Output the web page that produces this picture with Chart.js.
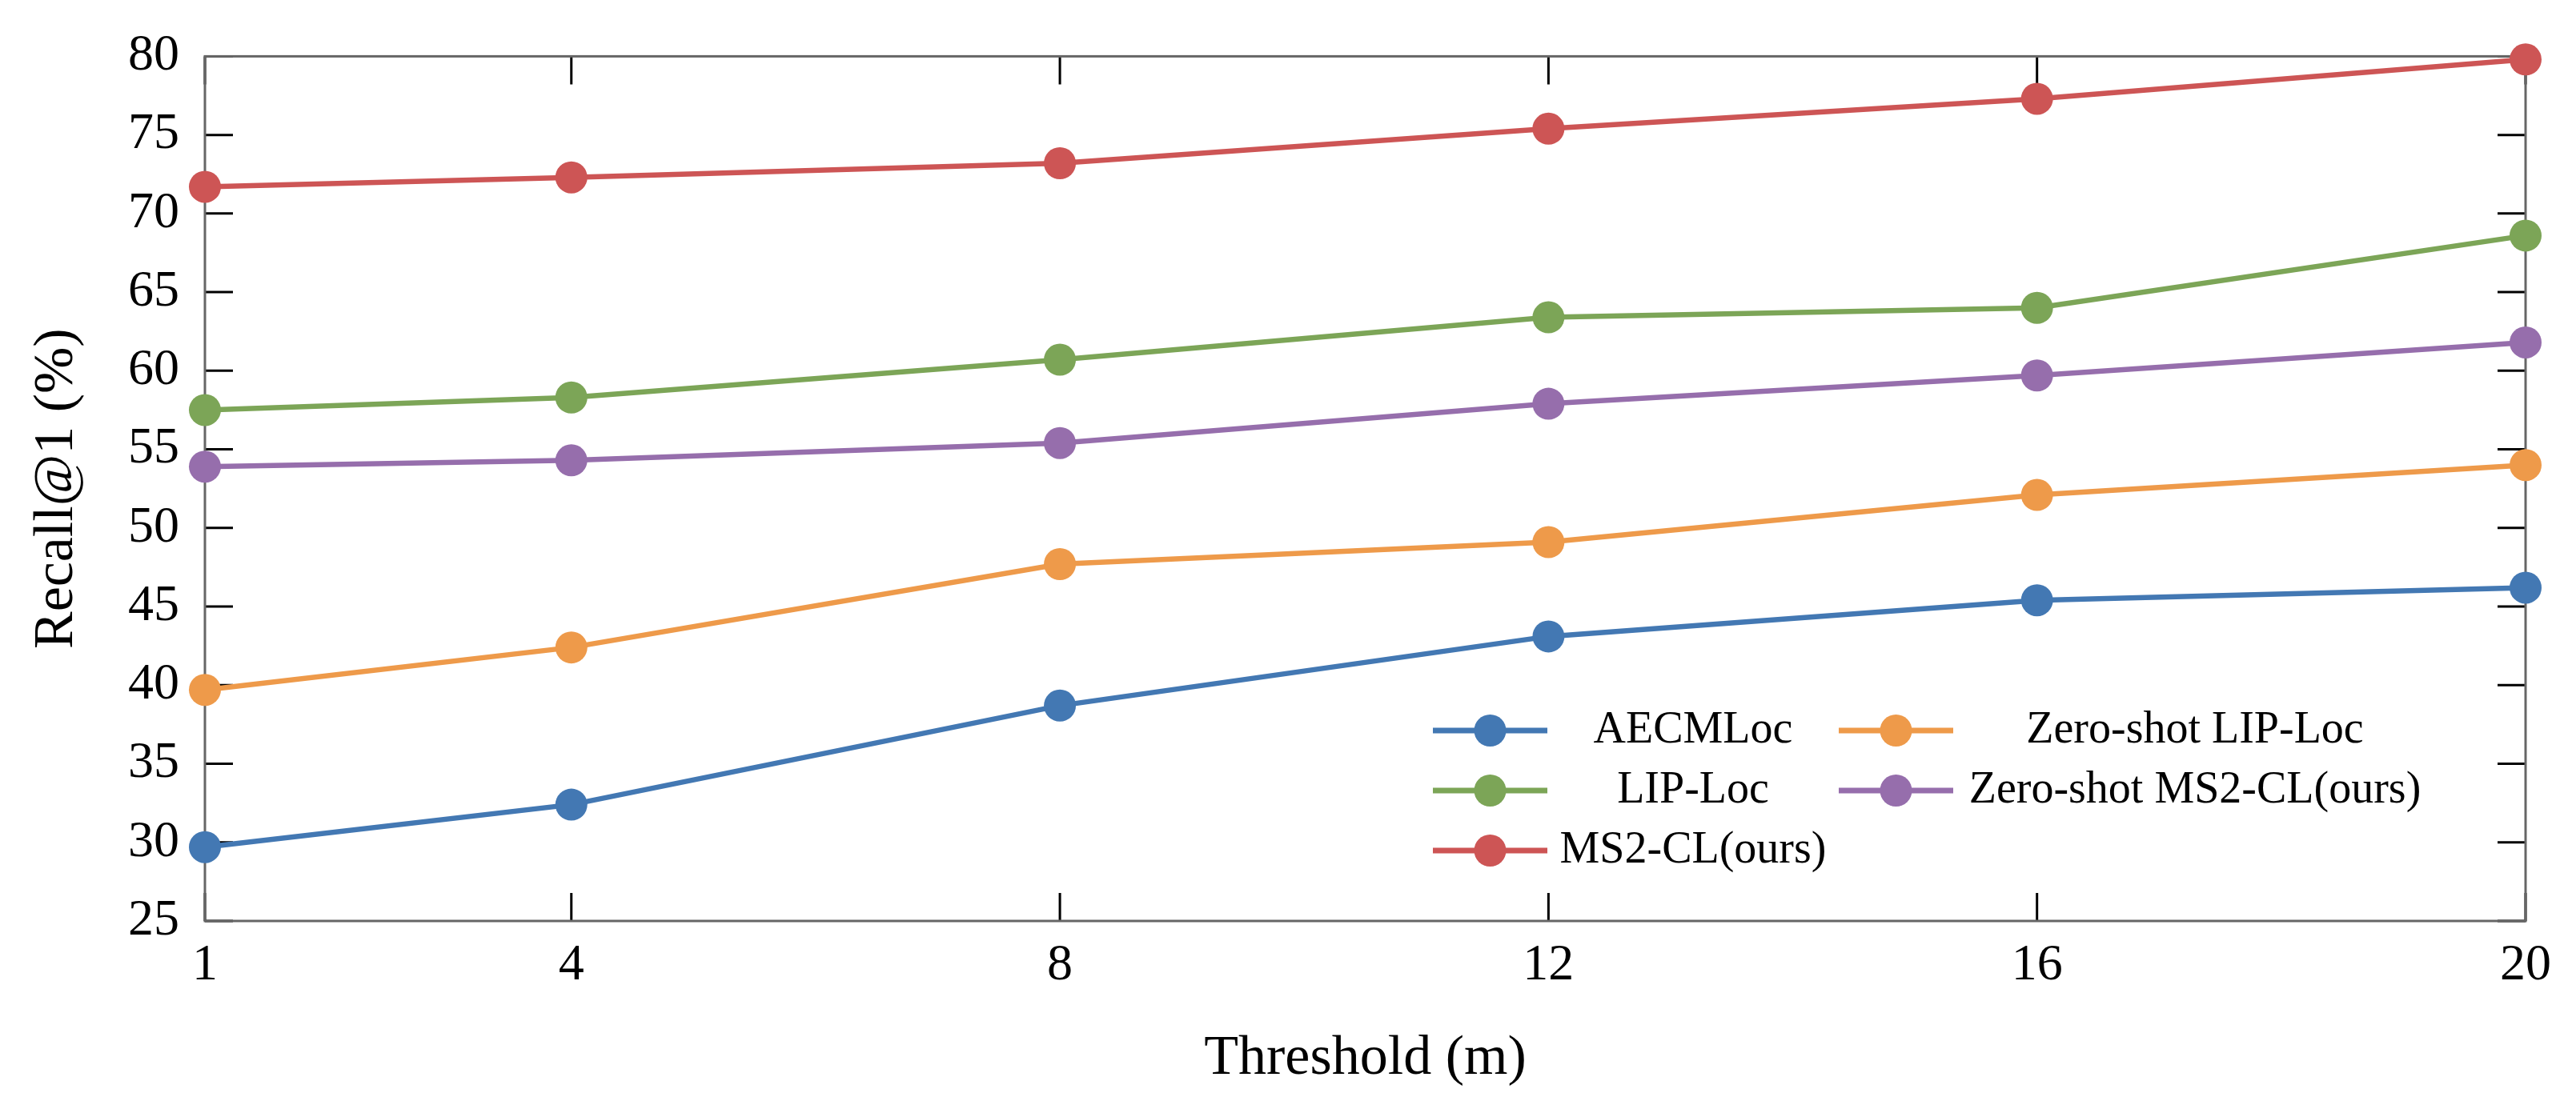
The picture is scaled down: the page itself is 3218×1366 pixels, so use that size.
<!DOCTYPE html>
<html lang="en">
<head>
<meta charset="UTF-8">
<title>Recall@1 vs Threshold</title>
<script src="https://cdn.jsdelivr.net/npm/chart.js"></script>
<style>
  body { margin: 0; background: #fff; }
  #wrap { width: 3218px; height: 1366px; }
</style>
</head>
<body>
<div id="wrap"><canvas id="recallChart" width="3218" height="1366"></canvas></div>
<script>
// data
const thresholds = [1, 4, 8, 12, 16, 20];
const aecmloc  = [29.7, 32.4, 38.7, 43.1, 45.4, 46.2];
const lipLoc   = [57.5, 58.3, 60.7, 63.4, 64.0, 68.6];
const ms2cl    = [71.7, 72.3, 73.2, 75.4, 77.3, 79.8];
const zsLipLoc = [39.7, 42.4, 47.7, 49.1, 52.1, 54.0];
const zsMs2cl  = [53.9, 54.3, 55.4, 57.9, 59.7, 61.8];
const yTicks = [25, 30, 35, 40, 45, 50, 55, 60, 65, 70, 75, 80];

const seriesNames = ["AECMLoc", "LIP-Loc", "MS2-CL(ours)", "Zero-shot LIP-Loc", "Zero-shot MS2-CL(ours)"];
const seriesVals = [aecmloc, lipLoc, ms2cl, zsLipLoc, zsMs2cl];
const colors = ["#4378b3", "#7ca557", "#cd5555", "#ee9a4a", "#966eac"];

const FONT = "'Liberation Serif', 'Times New Roman', serif";

// box around the plot + inward ticks on all four sides
const frameTicks = {
    id: "frameTicks",
    beforeDatasetsDraw(chart) {
        const { ctx, chartArea: a, scales } = chart;
        ctx.save();
        ctx.strokeStyle = "#000";
        ctx.lineWidth = 3;
        const len = 35;
        scales.x.ticks.forEach(t => {
            const px = scales.x.getPixelForValue(t.value);
            ctx.beginPath();
            ctx.moveTo(px, a.bottom); ctx.lineTo(px, a.bottom - len);
            ctx.moveTo(px, a.top); ctx.lineTo(px, a.top + len);
            ctx.stroke();
        });
        scales.y.ticks.forEach(t => {
            const py = scales.y.getPixelForValue(t.value);
            ctx.beginPath();
            ctx.moveTo(a.left, py); ctx.lineTo(a.left + len, py);
            ctx.moveTo(a.right, py); ctx.lineTo(a.right - len, py);
            ctx.stroke();
        });
        ctx.strokeStyle = "#666";
        ctx.lineWidth = 3;
        ctx.strokeRect(a.left, a.top, a.right - a.left, a.bottom - a.top);
        ctx.restore();
    }
};

// two-column legend in the lower right, text centred like matplotlib
const legendBox = {
    id: "legendBox",
    afterDraw(chart) {
        const { ctx, chartArea: a } = chart;
        const cols = [
            { x0: a.right - 1365, x1: a.right - 1222, tx: a.right - 1040 },
            { x0: a.right - 858, x1: a.right - 715, tx: a.right - 413 }
        ];
        const rows = [a.bottom - 238, a.bottom - 163, a.bottom - 88];
        ctx.save();
        ctx.font = "56px " + FONT;
        ctx.textAlign = "center";
        ctx.textBaseline = "middle";
        chart.data.datasets.forEach((ds, i) => {
            const c = cols[Math.floor(i / 3)];
            const y = rows[i % 3];
            ctx.strokeStyle = ds.borderColor;
            ctx.lineWidth = 7;
            ctx.beginPath();
            ctx.moveTo(c.x0, y); ctx.lineTo(c.x1, y);
            ctx.stroke();
            ctx.fillStyle = ds.backgroundColor;
            ctx.beginPath();
            ctx.arc((c.x0 + c.x1) / 2, y, 20, 0, Math.PI * 2);
            ctx.fill();
            ctx.fillStyle = "#000";
            ctx.fillText(ds.label, c.tx, y);
        });
        ctx.restore();
    }
};

const ctx = document.getElementById("recallChart").getContext("2d");
new Chart(ctx, {
    type: "line",
    data: {
        datasets: seriesNames.map((name, i) => ({
            label: name,
            data: thresholds.map((t, j) => ({ x: t, y: seriesVals[i][j] })),
            borderColor: colors[i],
            backgroundColor: colors[i],
            borderWidth: 6.5,
            pointRadius: 20,
            pointHoverRadius: 20,
            pointBorderWidth: 0,
            tension: 0,
            clip: false
        }))
    },
    options: {
        responsive: false,
        devicePixelRatio: 1,
        animation: false,
        layout: { padding: { top: 60, right: 63, left: 0, bottom: 0 } },
        plugins: { legend: { display: false }, tooltip: { enabled: false } },
        scales: {
            x: {
                type: "linear",
                min: 1,
                max: 20,
                afterBuildTicks: s => { s.ticks = thresholds.map(v => ({ value: v })); },
                afterFit: s => { s.height = 215; },
                grid: { display: false, drawTicks: false },
                border: { display: false },
                ticks: { color: "#000", padding: 18, maxRotation: 0, font: { family: FONT, size: 64 } },
                title: { display: true, text: "Threshold (m)", color: "#000", padding: { top: 13, bottom: 0 }, font: { family: FONT, size: 70 } }
            },
            y: {
                min: 25,
                max: 80,
                afterBuildTicks: s => { s.ticks = yTicks.map(v => ({ value: v })); },
                afterFit: s => { s.width = 256; },
                grid: { display: false, drawTicks: false },
                border: { display: false },
                ticks: { color: "#000", padding: 32, font: { family: FONT, size: 64 } },
                title: { display: true, text: "Recall@1 (%)", color: "#000", padding: { top: 30, bottom: 0 }, font: { family: FONT, size: 70 } }
            }
        }
    },
    plugins: [frameTicks, legendBox]
});
</script>
</body>
</html>
